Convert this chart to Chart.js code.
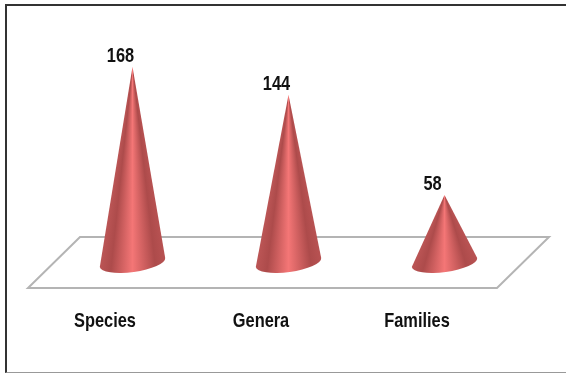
<!DOCTYPE html>
<html>
<head>
<meta charset="utf-8">
<title>Species, genera and families</title>
<script src="https://cdn.jsdelivr.net/npm/chart.js@4"></script>
<style>
  html, body { margin: 0; padding: 0; background: #fff; }
  #wrap { position: relative; width: 566px; height: 373px; overflow: hidden; }
  #frame { position: absolute; left: 5px; top: 4px; width: 566px; height: 366px; border-top: 2px solid #333; border-left: 2px solid #333; border-bottom: 1px solid #999; }
  canvas { position: absolute; left: 0; top: 0; }
</style>
</head>
<body>
<div id="wrap">
  <div id="frame"></div>
  <canvas id="taxaChart" width="566" height="373"></canvas>
</div>
<script>
// --- Chart data ---
const categories = ["Species", "Genera", "Families"];
const counts = [168, 144, 58];

const LABEL_FONT = '"Liberation Sans", Arial, sans-serif';
const NARROW = 0.78; // no narrow face installed, so squeeze the text when drawing

function narrowText(ctx, text, x, y) {
  ctx.font = "bold 21px " + LABEL_FONT;
  ctx.fillStyle = "#111";
  ctx.textAlign = "center";
  ctx.textBaseline = "middle";
  ctx.fillText(text, x, y, ctx.measureText(text).width * NARROW);
}

// --- Floor the cones stand on, slanted to fake depth ---
const floorPlugin = {
  id: "floor",
  beforeDatasetsDraw(chart) {
    const { ctx, chartArea: a } = chart;
    const depth = 52;
    const front = a.bottom + 25.5;
    const back = a.bottom - 25.5;
    ctx.save();
    ctx.beginPath();
    ctx.moveTo(a.left - 26.5, front);
    ctx.lineTo(a.right - 25.5, front);
    ctx.lineTo(a.right - 25.5 + depth, back);
    ctx.lineTo(a.left - 26.5 + depth, back);
    ctx.closePath();
    ctx.fillStyle = "#fff";
    ctx.fill();
    ctx.strokeStyle = "#b4b4b4";
    ctx.lineWidth = 2;
    ctx.stroke();
    ctx.restore();
  }
};

// --- Cones are drawn from the bar elements, so the y scale sets their height ---
const conePlugin = {
  id: "cones",
  afterDatasetsDraw(chart) {
    const { ctx, scales } = chart;
    chart.getDatasetMeta(0).data.forEach((bar, i) => {
      const r = bar.width / 2;
      const cx = bar.x;
      const tilt = 0.137; // base ellipse leans up to the right
      const rimX = r * Math.cos(tilt);
      const rimY = r * Math.sin(tilt);

      // conic shading so the highlight narrows towards the tip
      const half = Math.atan2(rimX, bar.base - bar.y - rimY);
      const span = (2 * half + 0.04) / (2 * Math.PI);
      const grad = ctx.createConicGradient(Math.PI / 2 - half - 0.02, cx, bar.y);
      grad.addColorStop(0, "#bb5454");
      grad.addColorStop(span * 0.2, "#ad4b4b");
      grad.addColorStop(span * 0.5, "#f47676");
      grad.addColorStop(span * 0.78, "#ad4b4b");
      grad.addColorStop(span, "#c25a5a");
      grad.addColorStop(1, "#c25a5a");

      ctx.save();
      ctx.fillStyle = grad;
      ctx.beginPath();
      ctx.moveTo(cx, bar.y);
      ctx.lineTo(cx + rimX, bar.base - rimY);
      ctx.ellipse(cx, bar.base, r, 9.5, -tilt, 0, Math.PI);
      ctx.closePath();
      ctx.fill();

      // value above the tip, category below the floor
      narrowText(ctx, String(counts[i]), cx - 12, bar.y - 11);
      narrowText(ctx, categories[i], scales.x.getPixelForTick(i) - 27.5, bar.base + 59);
      ctx.restore();
    });
  }
};

new Chart(document.getElementById("taxaChart"), {
  type: "bar",
  data: {
    labels: categories,
    datasets: [{
      data: counts,
      backgroundColor: "transparent",
      barThickness: 66
    }]
  },
  options: {
    responsive: false,
    animation: false,
    layout: { padding: { left: 54.5, right: 43.5, top: 29.5, bottom: 110.5 } },
    plugins: { legend: { display: false }, tooltip: { enabled: false } },
    scales: {
      x: {
        grid: { display: false, drawTicks: false },
        border: { display: false },
        ticks: { display: false }
      },
      y: {
        display: false,
        min: 0,
        max: 200
      }
    }
  },
  plugins: [floorPlugin, conePlugin]
});
</script>
</body>
</html>
